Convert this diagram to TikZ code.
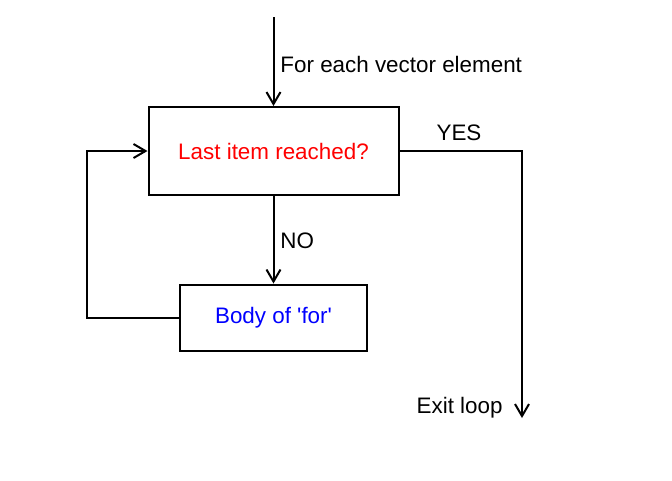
\documentclass[tikz,border=0pt]{standalone}
\usepackage{fontspec}
\setmainfont{Liberation Sans}
\usetikzlibrary{arrows.meta}
\tikzset{>={Straight Barb[length=9pt,width=10.5pt]}}

\begin{document}
\begin{tikzpicture}[x=0.75pt,y=-0.75pt,line width=1.5pt,
    font=\fontsize{16.8}{20}\selectfont,
    box/.style={draw,inner sep=0pt}]
  \useasboundingbox (0,0) rectangle (672,480);
  % boxes
  \node[box,minimum width=187.5pt,minimum height=66pt,text=red] (test) at (273.5,151) {Last item reached?};
  \node[box,minimum width=140pt,minimum height=49.5pt,text=blue] (body) at (273.5,317.5) {Body of \textquotesingle for\textquotesingle};
  % entry, exit and loop points
  \coordinate (start) at (273.5,17);
  \coordinate (yes) at (522,151);
  \coordinate (exit) at (522,418);
  \coordinate (back) at (87,151);
  % connectors
  \draw[->] (start) -- (test.north);
  \draw[->] (test.south) -- (body.north);
  \draw[->] (test.east) -- (yes) -- (exit);
  \draw[->] (body.west) -| (back) -- (test.west);
  % labels
  \node[anchor=west] (each) at (275,64) {For each vector element};
  \node[anchor=west] (no) at (275,241) {NO};
  \node (yeslabel) at (459,133) {YES};
  \node[anchor=east] (exitlabel) at (508,408) {Exit loop};
\end{tikzpicture}
\end{document}
